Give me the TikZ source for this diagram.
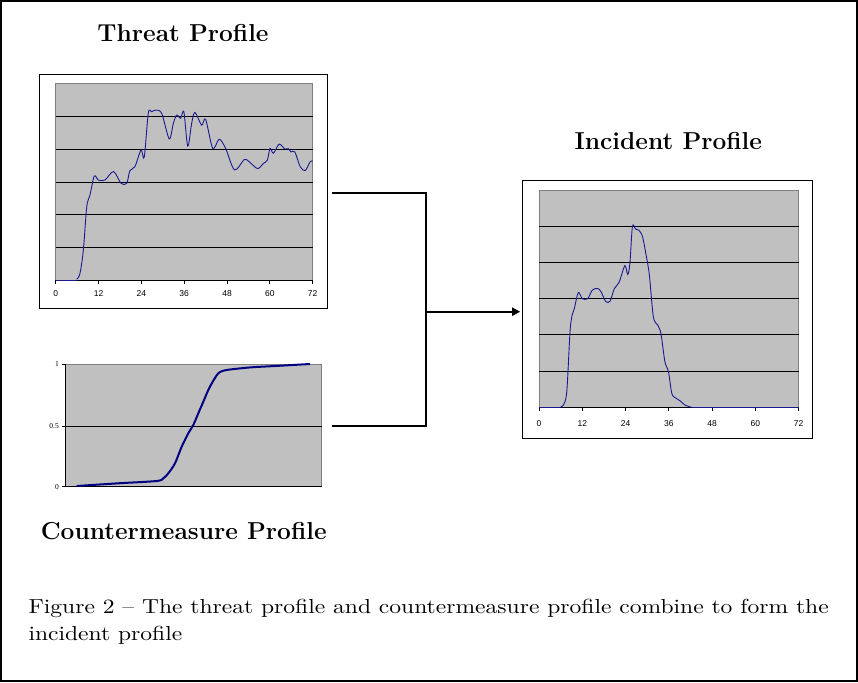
\documentclass[tikz,border=0pt]{standalone}
\usepackage{fontspec}
\newfontfamily\axisfont{Liberation Sans}
\newfontfamily\tickserif{Liberation Serif}
\newfontfamily\capfont{lmroman10-regular}[Extension=.otf, FakeStretch=1.16]
\usetikzlibrary{arrows.meta}
\definecolor{plotgray}{RGB}{192,192,192}
\definecolor{bordergray}{RGB}{128,128,128}
\definecolor{curveblue}{RGB}{25,25,145}
\definecolor{curvenavy}{RGB}{0,0,128}
\tikzset{
  chartbox/.style={draw=black, line width=1pt, inner sep=0pt, fill=white},
  gridline/.style={black, line width=0.9pt},
  axisline/.style={black, line width=1pt},
  frameline/.style={bordergray, line width=1pt},
  tickmark/.style={black, line width=0.8pt},
  ticklabel/.style={font=\axisfont\fontsize{8.5}{10}\selectfont, inner sep=0pt, anchor=base},
  valuelabel/.style={font=\tickserif\fontsize{7.5}{9}\selectfont, inner sep=0pt, anchor=east},
  titletext/.style={font=\fontsize{24.5}{29}\selectfont\bfseries, inner sep=0pt, anchor=base},
  captiontext/.style={font=\capfont\fontsize{20.3}{24}\selectfont, inner sep=0pt, anchor=base west},
  curve/.style={curveblue, line width=0.9pt},
  cmcurve/.style={curvenavy, line width=2pt},
  conn/.style={black, line width=2pt},
}
\begin{document}
\begin{tikzpicture}[x=1pt,y=-1pt]
\useasboundingbox (0,0) rectangle (858,682);
\draw[line width=1.5pt] (1,1) rectangle (857,681);

% ---------------- Threat profile chart ----------------
\node[chartbox, minimum width=288pt, minimum height=233pt] (threatbox) at (183,191.5) {};
\fill[plotgray] (55.7,84) rectangle (312.7,280);
\draw[frameline] (55.7,280) -- (55.7,84) -- (312.7,84) -- (312.7,280);
\foreach \k in {1,...,5} \draw[gridline] (55.7,{280-32.667*\k}) -- (312.7,{280-32.667*\k});
\draw[axisline] (55.7,280) -- (312.7,280);
\foreach \v in {0,12,...,72} {
  \draw[tickmark] ({55.7+3.5694*\v},280) -- ++(0,3.5);
  \node[ticklabel] (tl\v) at ({55.7+3.5694*\v},296) {\v};
}
\begin{scope}[xshift=55.7pt, yshift=-280pt, x=3.5694pt, y=32.667pt]
\draw[curve] (0,0) -- (5.9,0);
\draw[curve] plot[smooth, tension=0.5] coordinates {
 (5.9,0.02) (6.8,0.2) (7.75,0.92) (8.7,2.24) (9.6,2.6) (10.8,3.18) (11.96,3.06)
 (13.8,3.06) (16.2,3.32) (18.3,2.96) (19.9,2.96) (20.8,3.35) (22.2,3.47)
 (23.9,3.98) (24.8,3.76) (25.96,5.12) (26.9,5.15) (28.0,5.2) (29.7,5.1)
 (31.8,4.32) (32.97,4.8) (33.9,5.05) (35.0,4.95) (35.9,5.15) (37.0,4.1)
 (38.1,4.8) (39.0,5.13) (40.9,4.74) (42.0,4.92) (44.0,4.03) (45.8,4.31)
 (47.6,4.03) (50.1,3.37) (52.9,3.69) (54.7,3.57) (56.6,3.41) (58.2,3.57)
 (59.3,3.67) (60.05,4.03) (61.0,3.88) (62.6,4.16) (64.2,4.01) (65.2,4.02)
 (65.9,3.92) (67.0,3.92) (68.5,3.47) (69.9,3.35) (71.3,3.62) (72,3.64)};
\end{scope}

% ---------------- Countermeasure chart ----------------
\fill[plotgray] (65,364) rectangle (321.7,486.7);
\draw[frameline] (65,364) -- (321.7,364) -- (321.7,486.7);
\draw[gridline] (65,426) -- (321.7,426);
\draw[axisline] (65,364) -- (65,486.7) -- (321.7,486.7);
\foreach \yy/\lab/\nm in {364/1/one, 426/0.5/half, 486.7/0/zero} {
  \draw[tickmark] (62,\yy) -- (65,\yy);
  \node[valuelabel] (cm\nm) at (59,\yy) {\lab};
}
\draw[cmcurve] plot[smooth, tension=0.5] coordinates {
 (76.7,486) (118.3,483.3) (156.7,481) (163.3,478.3) (168.3,473.3) (175,463.3)
 (181.7,446.7) (188.3,433.3) (193.3,425) (198.3,413.3) (203.3,401.7)
 (208.3,390) (213.3,380.7) (218.3,373.3) (223.3,370.7) (231.7,369.3)
 (251.7,367.3) (275,366) (310,364)};

% ---------------- Incident profile chart ----------------
\node[chartbox, minimum width=290pt, minimum height=258.3pt] (incbox) at (667.7,309.2) {};
\fill[plotgray] (539,190) rectangle (798.7,407.3);
\draw[frameline] (539,407.3) -- (539,190) -- (798.7,190) -- (798.7,407.3);
\foreach \k in {1,...,5} \draw[gridline] (539,{407.3-36.217*\k}) -- (798.7,{407.3-36.217*\k});
\draw[axisline] (539,407.3) -- (798.7,407.3);
\foreach \v in {0,12,...,72} {
  \draw[tickmark] ({539+3.607*\v},407.3) -- ++(0,3.5);
  \node[ticklabel] (il\v) at ({539+3.607*\v},426.5) {\v};
}
\begin{scope}[xshift=539pt, yshift=-407.3pt, x=3.607pt, y=36.217pt]
\draw[curve] (0,0) -- (5.8,0);
\draw[curve] plot[smooth, tension=0.5] coordinates {
 (5.8,0) (6.75,0.06) (7.7,0.43) (8.6,2.09) (9.2,2.55) (9.8,2.73) (10.9,3.17)
 (12.0,3.0) (13.5,3.0) (14.8,3.24) (16.3,3.28) (17.2,3.19) (18.5,2.92)
 (19.7,2.93) (20.9,3.28) (22.2,3.45) (23.8,3.91) (24.6,3.67) (25.2,3.97)
 (25.9,4.99) (26.8,4.92) (27.7,4.89) (28.7,4.71) (29.7,4.2) (30.6,3.65)
 (31.7,2.5) (32.9,2.27) (33.8,2.04) (34.9,1.26) (35.9,0.98) (36.8,0.39)
 (37.7,0.27) (39.1,0.18) (40.5,0.06) (42.3,0)};
\draw[curve] (42.3,0) -- (72,0);
\end{scope}

% ---------------- Connectors ----------------
\coordinate (tout) at (331.7,193.3);
\coordinate (cout) at (331.7,426);
\coordinate (join) at (426,311.7);
\draw[conn] (tout) -- (tout -| join) -- (cout -| join) -- (cout);
\draw[conn, -{Triangle[length=8pt,width=8pt]}, shorten >=2pt] (join) -- (incbox.west |- join);

% ---------------- Titles and caption ----------------
\node[titletext] (threattitle) at (183,41.7) {Threat Profile};
\node[titletext] (inctitle) at (668.3,149.3) {Incident Profile};
\node[titletext] (cmtitle) at (183.7,539.3) {Countermeasure Profile};
\node[captiontext] (cap1) at (28.3,613.3) {Figure 2 – The threat profile and countermeasure profile combine to form the};
\node[captiontext] (cap2) at (28.3,640) {incident profile};
\end{tikzpicture}
\end{document}
